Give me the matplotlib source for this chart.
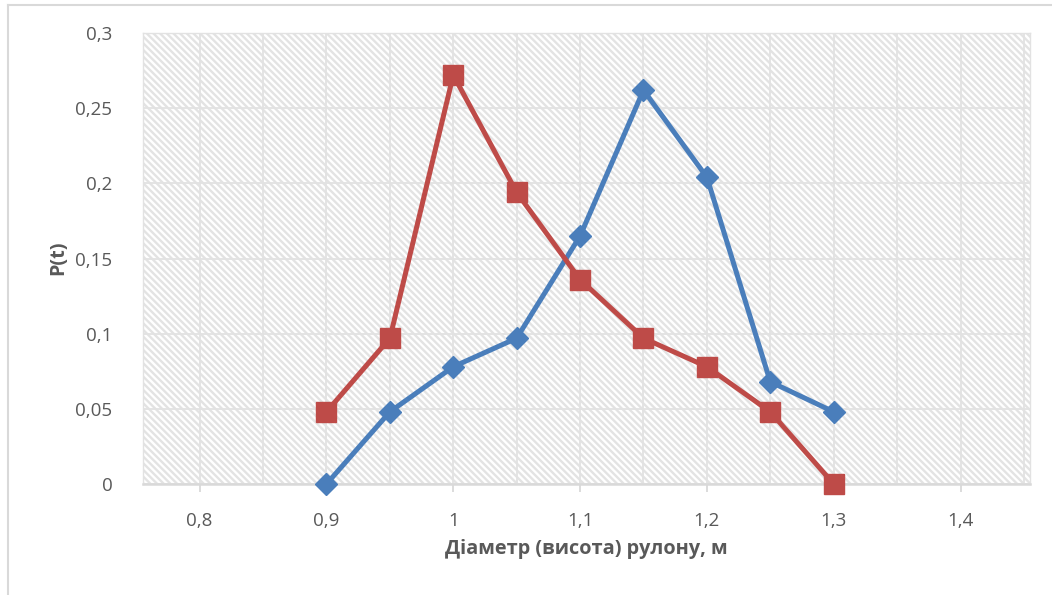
import matplotlib
matplotlib.use('Agg')
import matplotlib.pyplot as plt
from matplotlib.patches import Rectangle
from matplotlib.lines import Line2D
from matplotlib.ticker import FuncFormatter, MultipleLocator

plt.rcParams['font.family'] = ['Open Sans', 'DejaVu Sans']
plt.rcParams['hatch.linewidth'] = 1.7

# diameter (height) of the roll, m
diameter = [0.9, 0.95, 1.0, 1.05, 1.1, 1.15, 1.2, 1.25, 1.3]
# probabilities of the two series
p_blue = [0.0, 0.048, 0.078, 0.097, 0.165, 0.262, 0.204, 0.068, 0.048]
p_red = [0.048, 0.097, 0.272, 0.194, 0.136, 0.097, 0.078, 0.048, 0.0]

x_ticks = [0.8, 0.9, 1.0, 1.1, 1.2, 1.3, 1.4]
y_ticks = [0, 0.05, 0.1, 0.15, 0.2, 0.25, 0.3]

text_col = '#595959'
grid_col = '#E2E2E2'
blue = '#4A7EBB'
red = '#BE4B48'


def comma(v, pos=None):
    s = ('%.2f' % v).rstrip('0').rstrip('.')
    return s.replace('.', ',')


fig = plt.figure(figsize=(10.52, 5.95), dpi=100)
ax = fig.add_axes([143 / 1052, 1 - 484 / 595, 887 / 1052, 451 / 595])

# striped background of the plot area
ax.add_patch(Rectangle((0, 0), 1, 1, transform=ax.transAxes, facecolor='white',
                       edgecolor='#E3E3E3', hatch='\\' * 5, linewidth=0, zorder=0))

ax.set_xlim(0.7553, 1.4548)
ax.set_ylim(0, 0.3)
ax.set_xticks(x_ticks)
ax.set_yticks(y_ticks)
ax.xaxis.set_minor_locator(MultipleLocator(0.05))
ax.xaxis.set_major_formatter(FuncFormatter(comma))
ax.yaxis.set_major_formatter(FuncFormatter(comma))
ax.grid(True, which='both', color=grid_col, linewidth=1.3, zorder=1)
ax.set_axisbelow(True)

ax.tick_params(axis='x', which='major', length=6, width=1.3, color='#D9D9D9',
               labelsize=13.5, labelcolor=text_col, pad=14)
ax.tick_params(axis='x', which='minor', length=0)
ax.tick_params(axis='y', length=0, labelsize=13.5, labelcolor=text_col, pad=22)
for side in ['left', 'right', 'top']:
    ax.spines[side].set_color(grid_col)
    ax.spines[side].set_linewidth(1.0)
ax.spines['bottom'].set_color('#D9D9D9')
ax.spines['bottom'].set_linewidth(1.8)

ax.plot(diameter, p_blue, color=blue, linewidth=3.6, marker='D', markersize=11,
        markeredgecolor=blue, clip_on=False, zorder=3)
ax.plot(diameter, p_red, color=red, linewidth=3.6, marker='s', markersize=15,
        markeredgecolor=red, clip_on=False, zorder=3)

fig.text(586.5 / 1052, 1 - 549 / 595, 'Діаметр (висота) рулону, м', ha='center', va='center',
         fontsize=14.3, fontweight='bold', color=text_col)
fig.text(58 / 1052, 1 - 258 / 595, 'P(t)', ha='center', va='center', rotation=90,
         fontsize=14.3, fontweight='bold', color=text_col)

# chart frame lines on the top and left
fig.add_artist(Line2D([8 / 1052, 1], [1 - 5 / 595, 1 - 5 / 595], color='#D9D9D9', linewidth=1.5))
fig.add_artist(Line2D([8 / 1052, 8 / 1052], [0, 1 - 5 / 595], color='#D9D9D9', linewidth=1.5))

fig.savefig('out.png', dpi=100)
